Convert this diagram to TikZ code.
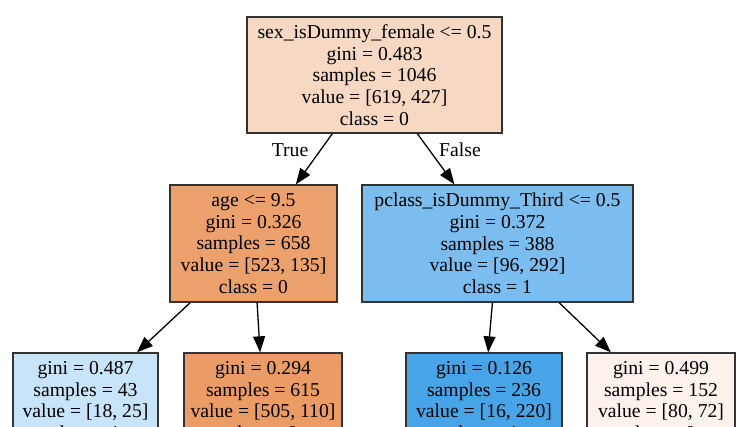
\documentclass[tikz,border=0pt]{standalone}
\usepackage{fontspec}
\setmainfont{Liberation Serif}
\usetikzlibrary{arrows.meta}
\definecolor{rootfill}{HTML}{F7D8C2}
\definecolor{agefill}{HTML}{ECA16C}
\definecolor{pclassfill}{HTML}{7ABDEE}
\definecolor{leafafill}{HTML}{C8E4F8}
\definecolor{leafbfill}{HTML}{EB9C64}
\definecolor{leafcfill}{HTML}{47A4E7}
\definecolor{leafdfill}{HTML}{FCF2EB}
\begin{document}
\begin{tikzpicture}[x=1pt,y=-1pt,
  box/.style={draw=black!80,line width=1.3pt,align=center,inner sep=0pt,font=\fontsize{19.7}{21.7}\selectfont},
  lbl/.style={font=\fontsize{19.7}{21.7}\selectfont},
  edge/.style={line width=1.3pt,-{Triangle[length=16pt,width=12pt]}}]
\useasboundingbox (0,0) rectangle (750,426);
\clip (0,0) rectangle (750,426);
\node[box,fill=rootfill,minimum width=255pt,minimum height=116pt] (root) at (374.5,75) {sex\_isDummy\_female <= 0.5\\gini = 0.483\\samples = 1046\\value = [619, 427]\\class = 0};
\node[box,fill=agefill,minimum width=167pt,minimum height=117pt] (age) at (253.5,243.5) {age <= 9.5\\gini = 0.326\\samples = 658\\value = [523, 135]\\class = 0};
\node[box,fill=pclassfill,minimum width=271pt,minimum height=117pt] (pclass) at (497.5,243.5) {pclass\_isDummy\_Third <= 0.5\\gini = 0.372\\samples = 388\\value = [96, 292]\\class = 1};
\node[box,fill=leafafill,minimum width=145pt,minimum height=95pt] (leafa) at (85.5,400.5) {gini = 0.487\\samples = 43\\value = [18, 25]\\class = 1};
\node[box,fill=leafbfill,minimum width=158pt,minimum height=95pt] (leafb) at (263,400.5) {gini = 0.294\\samples = 615\\value = [505, 110]\\class = 0};
\node[box,fill=leafcfill,minimum width=156pt,minimum height=95pt] (leafc) at (484,400.5) {gini = 0.126\\samples = 236\\value = [16, 220]\\class = 1};
\node[box,fill=leafdfill,minimum width=148pt,minimum height=95pt] (leafd) at (661,400.5) {gini = 0.499\\samples = 152\\value = [80, 72]\\class = 0};
\node[lbl] (true) at (290,150) {True};
\node[lbl] (false) at (460,150) {False};
\draw[edge] (root) -- (age);
\draw[edge] (root) -- (pclass);
\draw[edge] (age) -- (leafa);
\draw[edge] (age) -- (leafb);
\draw[edge] (pclass) -- (leafc);
\draw[edge] (pclass) -- (leafd);
\end{tikzpicture}
\end{document}
